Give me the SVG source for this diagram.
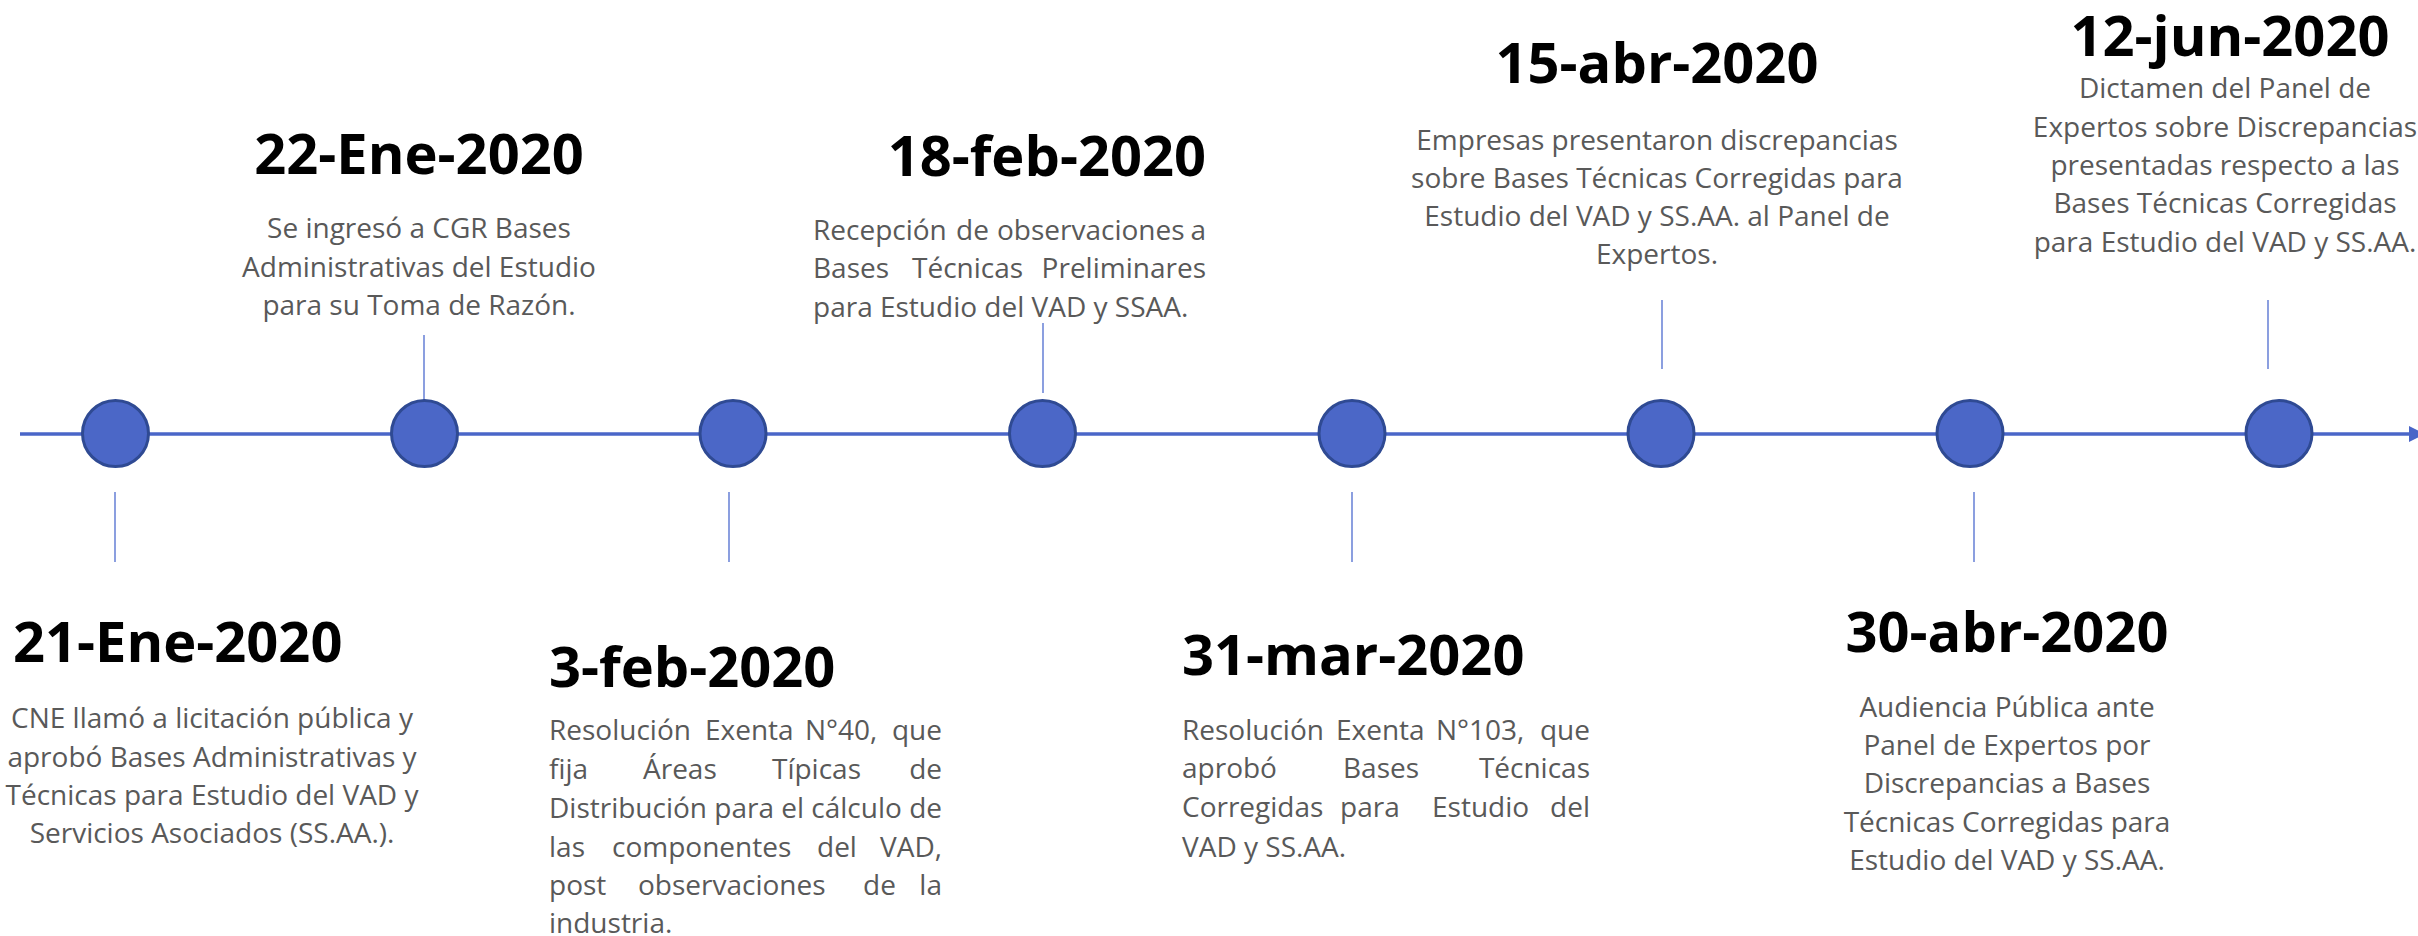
<svg xmlns="http://www.w3.org/2000/svg" width="2418" height="936" viewBox="0 0 2418 936">
<style>
.date{font-family:"Open Sans","Liberation Sans",sans-serif;font-weight:700;font-size:56px;fill:#000}
.body{font-family:"Open Sans","Liberation Sans",sans-serif;font-size:28px;fill:#595959}
.c{text-anchor:middle}
.e{text-anchor:end}
.dot{fill:#4B67C7;stroke:#2F4A93;stroke-width:3}
.tick{stroke:#6F87D8;stroke-width:1.6}
.axis{stroke:#4A66C8;stroke-width:3.5;fill:none}
</style>
<rect width="2418" height="936" fill="#fff"/>
<g id="connectors">
<line class="axis" x1="20" y1="434" x2="2410" y2="434"/>
<polygon points="2409,426 2425,434 2409,442" fill="#4A66C8"/>
<line class="tick" x1="115" y1="492" x2="115" y2="562"/>
<line class="tick" x1="424" y1="335" x2="424" y2="400"/>
<line class="tick" x1="729" y1="492" x2="729" y2="562"/>
<line class="tick" x1="1043" y1="323" x2="1043" y2="393"/>
<line class="tick" x1="1352" y1="492" x2="1352" y2="562"/>
<line class="tick" x1="1662" y1="300" x2="1662" y2="369"/>
<line class="tick" x1="1974" y1="492" x2="1974" y2="562"/>
<line class="tick" x1="2268" y1="300" x2="2268" y2="369"/>
</g>
<g id="node1">
<circle class="dot" cx="115.5" cy="433.5" r="33"/>
<text class="date" x="13" y="662">21-Ene-2020</text>
<text class="body c" x="212" y="728">CNE llamó a licitación pública y</text>
<text class="body c" x="212" y="767">aprobó Bases Administrativas y</text>
<text class="body c" x="212" y="805">Técnicas para Estudio del VAD y</text>
<text class="body c" x="212" y="843">Servicios Asociados (SS.AA.).</text>
</g>
<g id="node2">
<circle class="dot" cx="424.5" cy="433.5" r="33"/>
<text class="date c" x="419" y="174">22-Ene-2020</text>
<text class="body c" x="419" y="238">Se ingresó a CGR Bases</text>
<text class="body c" x="419" y="277">Administrativas del Estudio</text>
<text class="body c" x="419" y="315">para su Toma de Razón.</text>
</g>
<g id="node3">
<circle class="dot" cx="733" cy="433.5" r="33"/>
<text class="date" x="549" y="687">3-feb-2020</text>
<text class="body" y="740"><tspan x="549">Resolución</tspan><tspan x="705">Exenta</tspan><tspan x="805">N°40,</tspan></text>
<text class="body e" x="942" y="740">que</text>
<text class="body" y="779"><tspan x="549">fija</tspan><tspan x="643">Áreas</tspan><tspan x="772">Típicas</tspan></text>
<text class="body e" x="942" y="779">de</text>
<text class="body" x="549" y="818" textLength="393" lengthAdjust="spacingAndGlyphs">Distribución para el cálculo de</text>
<text class="body" y="857"><tspan x="549">las</tspan><tspan x="612">componentes</tspan><tspan x="817">del</tspan></text>
<text class="body e" x="942" y="857">VAD,</text>
<text class="body" y="895"><tspan x="549">post</tspan><tspan x="638">observaciones</tspan><tspan x="863">de</tspan></text>
<text class="body e" x="942" y="895">la</text>
<text class="body" x="549" y="933">industria.</text>
</g>
<g id="node4">
<circle class="dot" cx="1042.5" cy="433.5" r="33"/>
<text class="date e" x="1206" y="176">18-feb-2020</text>
<text class="body" y="240"><tspan x="813">Recepción</tspan><tspan x="956">de</tspan><tspan x="997">observaciones</tspan></text>
<text class="body e" x="1206" y="240">a</text>
<text class="body" y="278"><tspan x="813">Bases</tspan><tspan x="912">Técnicas</tspan></text>
<text class="body e" x="1206" y="278">Preliminares</text>
<text class="body" x="813" y="317">para Estudio del VAD y SSAA.</text>
</g>
<g id="node5">
<circle class="dot" cx="1352" cy="433.5" r="33"/>
<text class="date" x="1182" y="675">31-mar-2020</text>
<text class="body" y="740"><tspan x="1182">Resolución</tspan><tspan x="1336">Exenta</tspan><tspan x="1436">N°103,</tspan></text>
<text class="body e" x="1590" y="740">que</text>
<text class="body" y="778"><tspan x="1182">aprobó</tspan><tspan x="1343">Bases</tspan></text>
<text class="body e" x="1590" y="778">Técnicas</text>
<text class="body" y="817"><tspan x="1182">Corregidas</tspan><tspan x="1340">para</tspan><tspan x="1432">Estudio</tspan></text>
<text class="body e" x="1590" y="817">del</text>
<text class="body" x="1182" y="857">VAD y SS.AA.</text>
</g>
<g id="node6">
<circle class="dot" cx="1661" cy="433.5" r="33"/>
<text class="date c" x="1657" y="83">15-abr-2020</text>
<text class="body c" x="1657" y="150">Empresas presentaron discrepancias</text>
<text class="body c" x="1657" y="188">sobre Bases Técnicas Corregidas para</text>
<text class="body c" x="1657" y="226">Estudio del VAD y SS.AA. al Panel de</text>
<text class="body c" x="1657" y="264">Expertos.</text>
</g>
<g id="node7">
<circle class="dot" cx="1970" cy="433.5" r="33"/>
<text class="date c" x="2007" y="652">30-abr-2020</text>
<text class="body c" x="2007" y="717">Audiencia Pública ante</text>
<text class="body c" x="2007" y="755">Panel de Expertos por</text>
<text class="body c" x="2007" y="793">Discrepancias a Bases</text>
<text class="body c" x="2007" y="832">Técnicas Corregidas para</text>
<text class="body c" x="2007" y="870">Estudio del VAD y SS.AA.</text>
</g>
<g id="node8">
<circle class="dot" cx="2279" cy="433.5" r="33"/>
<text class="date c" x="2230" y="56">12-jun-2020</text>
<text class="body c" x="2225" y="98">Dictamen del Panel de</text>
<text class="body c" x="2225" y="137">Expertos sobre Discrepancias</text>
<text class="body c" x="2225" y="175">presentadas respecto a las</text>
<text class="body c" x="2225" y="213">Bases Técnicas Corregidas</text>
<text class="body c" x="2225" y="252">para Estudio del VAD y SS.AA.</text>
</g>
</svg>
